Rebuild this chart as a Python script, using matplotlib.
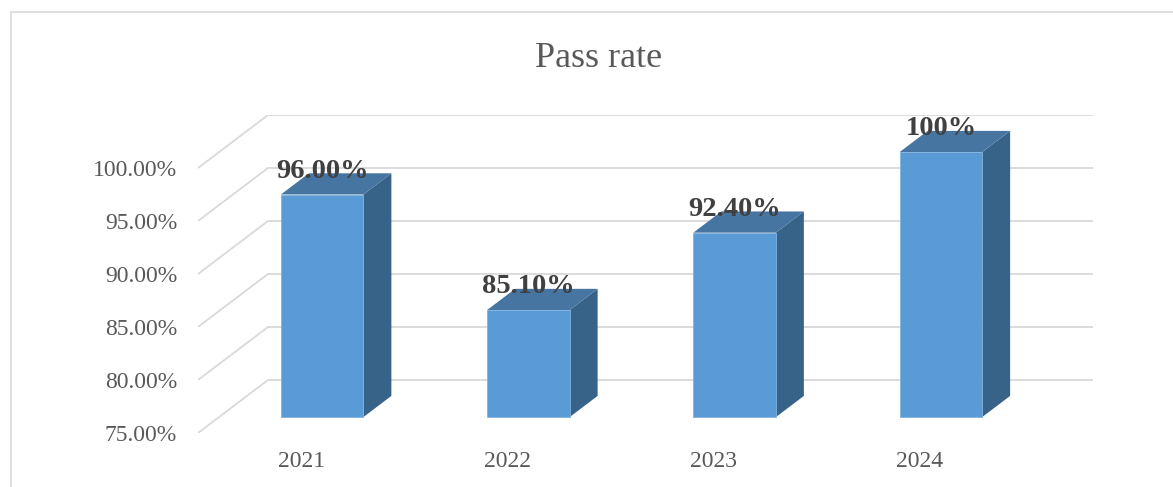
import numpy as np
import matplotlib.pyplot as plt
from matplotlib.patches import Polygon, Rectangle

# Dados do gráfico
anos = ['2021', '2022', '2023', '2024']
taxa_aprovacao = [96.0, 85.1, 92.4, 100.0]
rotulos = ['96.00%', '85.10%', '92.40%', '100%']
ticks_y = [75, 80, 85, 90, 95, 100]

plt.rcParams['font.family'] = ['Liberation Serif', 'DejaVu Serif']

W, H = 1173, 487
fig = plt.figure(figsize=(W / 100, H / 100), dpi=100)

# Área do "plano frontal" em pixels
x0, x1 = 198, 1093
y_front_bottom, y_back_top = 433, 115
ax = fig.add_axes([x0 / W, (H - y_front_bottom) / H, (x1 - x0) / W, (y_front_bottom - y_back_top) / H])

prof_x = 70 / 206.25   # deslocamento de profundidade em x (unidades de categoria)
prof_y = 5.0           # deslocamento de profundidade em y (unidades de valor)
ax.set_xlim(-0.5, 3.5 + prof_x)
ax.set_ylim(75, 105)

cor_grade = '#D9D9D9'
for v in ticks_y:
    ax.plot([-0.5, -0.5 + prof_x, 3.5 + prof_x], [v, v + prof_y, v + prof_y],
            color=cor_grade, lw=1.3, zorder=1, solid_capstyle='butt')

# Barras 3D (frente, topo e lateral)
largura = 0.4
d0, d1 = 0.3, 0.7
cor_frente = '#5B9BD5'
cor_topo = '#4675A1'
cor_lado = '#386388'
for i, v in enumerate(taxa_aprovacao):
    xc = i + d0 * prof_x
    base = ticks_y[0] + d0 * prof_y
    topo = v + d0 * prof_y
    ax.bar(xc, topo - base, bottom=base, width=largura, color=cor_frente,
           edgecolor='#7FB2E0', linewidth=0.6, zorder=3)
    xl, xr = xc - largura / 2, xc + largura / 2
    ddx = (d1 - d0) * prof_x
    ddy = (d1 - d0) * prof_y
    ax.add_patch(Polygon([(xr, base), (xr, topo), (xr + ddx, topo + ddy), (xr + ddx, base + ddy)],
                         closed=True, facecolor=cor_lado, edgecolor='none', zorder=2))
    ax.add_patch(Polygon([(xl, topo), (xr, topo), (xr + ddx, topo + ddy), (xl + ddx, topo + ddy)],
                         closed=True, facecolor=cor_topo, edgecolor='none', zorder=2))
    ax.text(xc, v + d1 * prof_y - 0.4, rotulos[i], ha='center', va='baseline',
            fontsize=20.5, fontweight='bold', color='#404040', zorder=5)

ax.set_yticks(ticks_y)
ax.set_yticklabels([f'{t:.2f}%' for t in ticks_y])
ax.set_xticks(range(len(anos)))
ax.set_xticklabels(anos)
ax.tick_params(axis='y', length=0, pad=15, labelsize=17, labelcolor='#595959')
ax.tick_params(axis='x', length=0, pad=13, labelsize=17, labelcolor='#595959')
for s in ax.spines.values():
    s.set_visible(False)
ax.patch.set_alpha(0)

# Título
fig.text(599 / W, (H - 67) / H, 'Pass rate', ha='center', va='baseline',
         fontsize=26, color='#595959')

# Borda externa do gráfico
fig.patches.append(Rectangle((11 / W, -0.2), 1.2, (H - 12) / H + 0.2, transform=fig.transFigure,
                             fill=False, edgecolor='#D9D9D9', lw=1.2))

plt.savefig('out.png', dpi=100)
